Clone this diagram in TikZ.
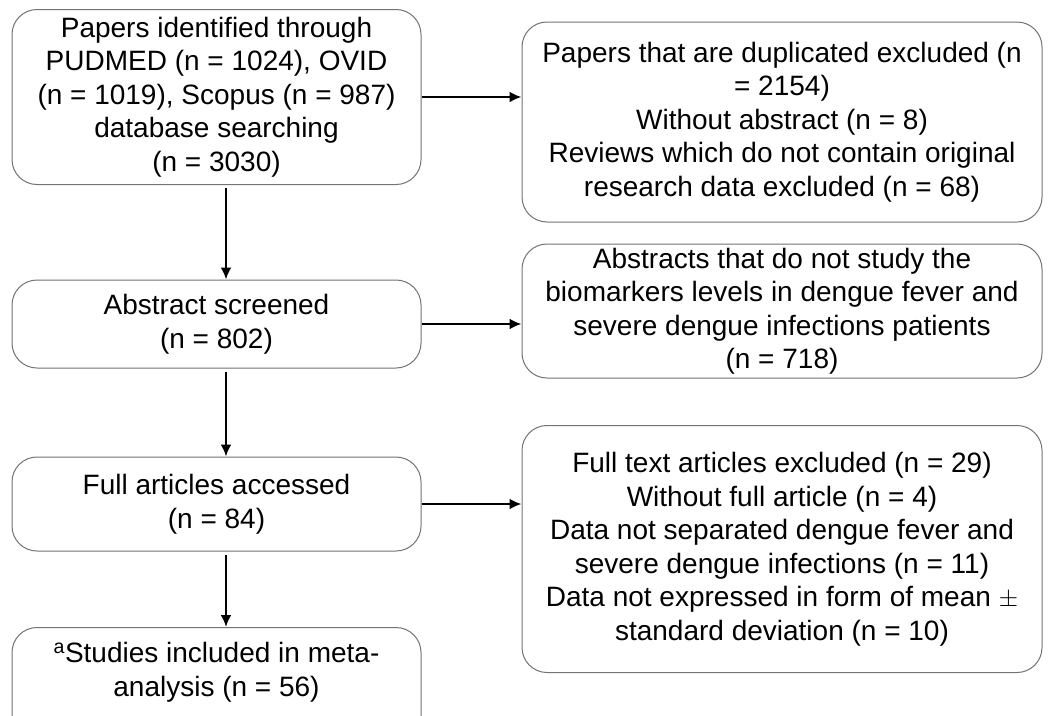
\documentclass[tikz,border=0pt]{standalone}
\usepackage{fontspec}
\setmainfont{Liberation Sans}
\usetikzlibrary{arrows.meta,calc}
\tikzset{
  box/.style={draw=black!55, line width=1pt, rounded corners=25pt, rectangle,
    inner sep=0pt, align=center, text=black,
    font=\fontsize{28}{33.5}\selectfont},
  leftbox/.style={box, minimum width=409pt},
  rightbox/.style={box, minimum width=520pt},
  arr/.style={line width=2.6pt, -{Latex[length=12pt,width=11pt]}},
}
\begin{document}
\begin{tikzpicture}[x=1pt,y=-1pt]
\clip (0,0) rectangle (1048,715);
\fill[white] (0,0) rectangle (1048,715);
\node[leftbox, minimum height=175pt] (b1) at (216.5,97) {Papers identified through\\PUDMED (n = 1024), OVID\\(n = 1019), Scopus (n = 987)\\database searching\\(n = 3030)};
\node[rightbox, minimum height=200pt] (b2) at (782,122) {Papers that are duplicated excluded (n\\= 2154)\\Without abstract (n = 8)\\Reviews which do not contain original\\research data excluded (n = 68)};
\node[leftbox, minimum height=88pt] (b3) at (216.5,324) {Abstract screened\\(n = 802)};
\node[rightbox, minimum height=134pt] (b4) at (782,311) {Abstracts that do not study the\\biomarkers levels in dengue fever and\\severe dengue infections patients\\(n = 718)};
\node[leftbox, minimum height=94pt] (b5) at (216.5,504) {Full articles accessed\\(n = 84)};
\node[rightbox, minimum height=247pt] (b6) at (782,549) {Full text articles excluded (n = 29)\\Without full article (n = 4)\\Data not separated dengue fever and\\severe dengue infections (n = 11)\\Data not expressed in form of mean $\pm$\\standard deviation (n = 10)};
\node[leftbox, minimum height=130pt, anchor=north] (b7) at (216.5,627) {};
\node[align=center, inner sep=0pt, font=\fontsize{28}{33.5}\selectfont, anchor=north] (t7) at (216.5,642) {\textsuperscript{a}Studies included in meta-\\analysis (n = 56)};
\coordinate (vx) at (226,0);
\draw[arr] (b1.east) -- (b1.east -| b2.west);
\draw[arr] (b3.east) -- (b3.east -| b4.west);
\draw[arr] (b5.east) -- (b5.east -| b6.west);
\draw[arr] ($(b1.south -| vx)+(0,3)$) -- (b3.north -| vx);
\draw[arr] ($(b3.south -| vx)+(0,3)$) -- (b5.north -| vx);
\draw[arr] ($(b5.south -| vx)+(0,3)$) -- (b7.north -| vx);
\end{tikzpicture}
\end{document}
